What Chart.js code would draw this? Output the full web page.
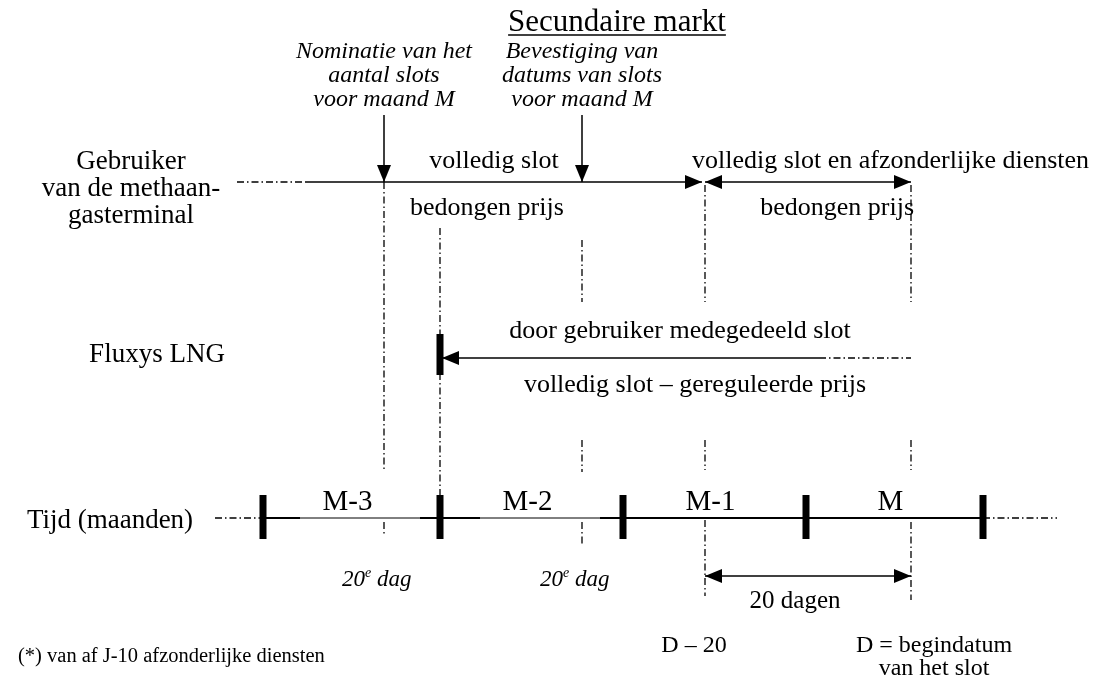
<!DOCTYPE html>
<html>
<head>
<meta charset="utf-8">
<script src="https://cdn.jsdelivr.net/npm/chart.js@4"></script>
<style>
    html, body { margin: 0; padding: 0; background: #fff; }
    #wrap { width: 1105px; height: 677px; }
</style>
</head>
<body>
<div id="wrap"><canvas id="schema"></canvas></div>
<script>
// Secundaire markt - tijdschema (x/y in eenheden van het schema)

// Tijdas: maanden en hun grenzen
const monthLabels = ['M-3', 'M-2', 'M-1', 'M'];
const monthEdges = [263, 440, 623, 806, 983];

// Rijen: gebruiker, Fluxys LNG, tijd
const rowLabels = [['Gebruiker', 'van de methaan-', 'gasterminal'], ['Fluxys LNG'], ['Tijd (maanden)']];
const rowLevels = [182, 358, 518];

// Markeringen op de tijdas
const day20 = [384, 582];      // 20e dag van M-3 en M-2
const nominationX = 384;       // nominatie aantal slots
const confirmX = 582;          // bevestiging datums
const dMinus20 = 705;          // D - 20
const dStart = 911;            // D = begindatum van het slot

const FONT = '"Liberation Serif", "Times New Roman", serif';
const DASHDOT = [7, 3, 1.5, 3];

function seg(x1, y1, x2, y2, extra) {
    return Object.assign({
        data: [{ x: x1, y: y1 }, { x: x2, y: y2 }],
        borderColor: '#000',
        borderWidth: 1.5,
        pointRadius: 0,
        showLine: true,
        fill: false
    }, extra || {});
}

function buildDatasets() {
    const ds = [];
    const yU = rowLevels[0], yF = rowLevels[1], yT = rowLevels[2];

    // gebruiker: volledig slot -> D-20, daarna volledig slot en afzonderlijke diensten
    ds.push(seg(237, yU, 305, yU, { borderDash: DASHDOT }));
    ds.push(seg(305, yU, dMinus20 - 3, yU, { arrows: 'end' }));
    ds.push(seg(dMinus20, yU, dStart, yU, { arrows: 'both' }));

    // pijlen nominatie / bevestiging
    ds.push(seg(nominationX, 115, nominationX, yU, { arrows: 'end' }));
    ds.push(seg(confirmX, 115, confirmX, yU, { arrows: 'end' }));

    // Fluxys LNG: door gebruiker medegedeeld slot
    ds.push(seg(monthEdges[1] + 2, yF, 819, yF, { arrows: 'start' }));
    ds.push(seg(819, yF, dStart, yF, { borderDash: DASHDOT }));
    ds.push(seg(monthEdges[1], yF - 24, monthEdges[1], yF + 17, { borderWidth: 7, borderCapStyle: 'butt' }));

    // tijdas
    ds.push(seg(215, yT, monthEdges[0], yT, { borderDash: DASHDOT }));
    ds.push(seg(monthEdges[monthEdges.length - 1], yT, 1057, yT, { borderDash: DASHDOT }));
    ds.push(seg(monthEdges[0], yT, 300, yT, { borderWidth: 2 }));
    ds.push(seg(300, yT, 420, yT, { borderWidth: 1 }));
    ds.push(seg(420, yT, 480, yT, { borderWidth: 2 }));
    ds.push(seg(480, yT, 600, yT, { borderWidth: 1 }));
    ds.push(seg(600, yT, monthEdges[4], yT, { borderWidth: 2 }));
    monthEdges.forEach(x => {
        ds.push(seg(x, yT - 23, x, yT + 21, { borderWidth: 7, borderCapStyle: 'butt' }));
    });

    // 20 dagen
    ds.push(seg(dMinus20, 576, dStart, 576, { arrows: 'both' }));

    // verticale hulplijnen (streep-punt)
    const guides = [
        [nominationX, yU, 470], [day20[0], yT + 4, yT + 18],
        [monthEdges[1], 228, yT - 23],
        [day20[1], 240, 302], [day20[1], 440, 472], [day20[1], yT + 4, yT + 27],
        [dMinus20, yU + 3, 302], [dMinus20, 440, 470], [dMinus20, yT + 2, 596],
        [dStart, yU + 3, 302], [dStart, 440, 470], [dStart, yT + 4, 600]
    ];
    guides.forEach(g => ds.push(seg(g[0], g[1], g[0], g[2], { borderDash: DASHDOT, borderWidth: 1.3 })));
    return ds;
}

// pijlpunten aan het begin/einde van een lijn
const arrowPlugin = {
    id: 'arrows',
    afterDatasetsDraw(chart) {
        const ctx = chart.ctx;
        chart.data.datasets.forEach((d, i) => {
            if (!d.arrows) return;
            const pts = chart.getDatasetMeta(i).data;
            const a = pts[0], b = pts[pts.length - 1];
            const head = (tip, from) => {
                const ang = Math.atan2(tip.y - from.y, tip.x - from.x);
                const len = 17, hw = 7;
                ctx.save();
                ctx.translate(tip.x, tip.y);
                ctx.rotate(ang);
                ctx.beginPath();
                ctx.moveTo(0, 0);
                ctx.lineTo(-len, -hw);
                ctx.lineTo(-len, hw);
                ctx.closePath();
                ctx.fillStyle = '#000';
                ctx.fill();
                ctx.restore();
            };
            if (d.arrows === 'end' || d.arrows === 'both') head(b, a);
            if (d.arrows === 'start' || d.arrows === 'both') head(a, b);
        });
    }
};

// teksten van het schema
const texts = [
    { t: 'Secundaire markt', x: 617, y: 31, size: 31, underline: true },
    { t: 'Nominatie van het', x: nominationX, y: 58, size: 24, italic: true },
    { t: 'aantal slots', x: nominationX, y: 82, size: 24, italic: true },
    { t: 'voor maand M', x: nominationX, y: 106, size: 24, italic: true },
    { t: 'Bevestiging van', x: confirmX, y: 58, size: 24, italic: true },
    { t: 'datums van slots', x: confirmX, y: 82, size: 24, italic: true },
    { t: 'voor maand M', x: confirmX, y: 106, size: 24, italic: true },
    { t: 'volledig slot', x: 494, y: 168, size: 26 },
    { t: 'volledig slot en afzonderlijke diensten', x: 692, y: 168, size: 26, align: 'left' },
    { t: 'bedongen prijs', x: 410, y: 215, size: 26, align: 'left' },
    { t: 'bedongen prijs', x: 914, y: 215, size: 26, align: 'right' },
    { t: 'door gebruiker medegedeeld slot', x: 680, y: 338, size: 26 },
    { t: 'volledig slot \u2013 gereguleerde prijs', x: 695, y: 392, size: 26 },
    { t: '20 dagen', x: 795, y: 608, size: 25 },
    { t: 'D \u2013 20', x: 694, y: 652, size: 24 },
    { t: 'D = begindatum', x: 934, y: 652, size: 24 },
    { t: 'van het slot', x: 934, y: 675, size: 24 },
    { t: '(*) van af J-10 afzonderlijke diensten', x: 18, y: 662, size: 20.5, align: 'left' }
];

const textPlugin = {
    id: 'texts',
    afterDraw(chart) {
        const ctx = chart.ctx;
        const sx = chart.scales.x, sy = chart.scales.y;
        ctx.save();
        ctx.fillStyle = '#000';
        ctx.strokeStyle = '#000';
        ctx.textBaseline = 'alphabetic';
        const put = (t, x, y, size, opts) => {
            ctx.font = (opts.italic ? 'italic ' : '') + size + 'px ' + FONT;
            ctx.textAlign = opts.align || 'center';
            const px = sx.getPixelForValue(x), py = sy.getPixelForValue(y);
            ctx.fillText(t, px, py);
            if (opts.underline) {
                const w = ctx.measureText(t).width;
                ctx.lineWidth = 1.5;
                ctx.beginPath();
                ctx.moveTo(px - w / 2, py + 4);
                ctx.lineTo(px + w / 2, py + 4);
                ctx.stroke();
            }
        };
        texts.forEach(o => put(o.t, o.x, o.y, o.size, o));

        // rijlabels
        const rowX = [131, 157, 110];
        const rowBase = [[169, 196, 223], [362], [528]];
        rowLabels.forEach((lines, r) => {
            lines.forEach((l, k) => put(l, rowX[r], rowBase[r][k], 27, {}));
        });

        // maandlabels op de tijdas
        monthLabels.forEach((m, i) => {
            put(m, (monthEdges[i] + monthEdges[i + 1]) / 2 - 4, rowLevels[2] - 8, 29, {});
        });

        // 20e dag
        day20.forEach(x => {
            const px = sx.getPixelForValue(x - 42), py = sy.getPixelForValue(586);
            ctx.textAlign = 'left';
            ctx.font = 'italic 23px ' + FONT;
            ctx.fillText('20', px, py);
            let w = ctx.measureText('20').width;
            ctx.font = 'italic 14px ' + FONT;
            ctx.fillText('e', px + w, py - 9);
            w += ctx.measureText('e').width;
            ctx.font = 'italic 23px ' + FONT;
            ctx.fillText(' dag', px + w, py);
        });
        ctx.restore();
    }
};

document.addEventListener('DOMContentLoaded', function() {
    const ctx = document.getElementById('schema');
    new Chart(ctx, {
        type: 'scatter',
        data: { datasets: buildDatasets() },
        options: {
            responsive: true,
            maintainAspectRatio: false,
            animation: false,
            layout: { padding: 0 },
            plugins: { legend: { display: false }, tooltip: { enabled: false } },
            scales: {
                x: { type: 'linear', min: 0, max: 1105, display: false },
                y: { type: 'linear', min: 0, max: 677, reverse: true, display: false }
            }
        },
        plugins: [arrowPlugin, textPlugin]
    });
});
</script>
</body>
</html>
